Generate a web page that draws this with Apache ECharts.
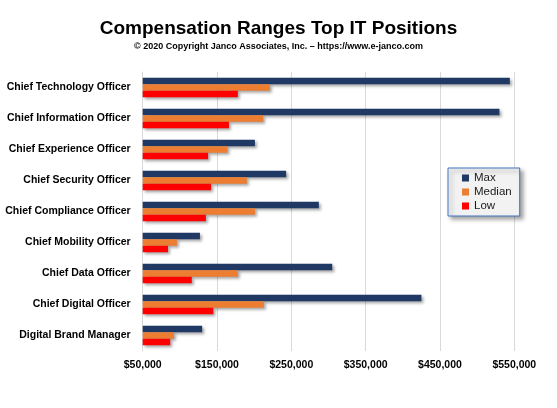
<!DOCTYPE html>
<html>
<head>
<meta charset="utf-8">
<script src="https://cdn.jsdelivr.net/npm/echarts@6/dist/echarts.min.js"></script>
<style>
  html, body { margin: 0; padding: 0; background: #fff; }
  #chart { width: 557px; height: 408px; }
</style>
</head>
<body>
<div id="chart"></div>
<script>
'use strict';
var positions = ['Chief Technology Officer', 'Chief Information Officer', 'Chief Experience Officer',
  'Chief Security Officer', 'Chief Compliance Officer', 'Chief Mobility Officer',
  'Chief Data Officer', 'Chief Digital Officer', 'Digital Brand Manager'];
var maxPay = [544000, 530000, 201000, 243000, 287000, 127000, 305000, 425000, 130000];
var medianPay = [221000, 212000, 164000, 190000, 201000, 96000, 178000, 213000, 92000];
var lowPay = [178000, 166000, 138000, 142000, 135000, 84000, 116000, 145000, 87000];
var xTicks = [50000, 150000, 250000, 350000, 450000, 550000];

var font = '"Liberation Sans", Arial, sans-serif';

function money(v) {
  return '$' + v.toString().replace(/\B(?=(\d{3})+(?!\d))/g, ',');
}

function barSeries(name, data, color) {
  return {
    name: name,
    type: 'bar',
    data: data,
    barWidth: 6.5,
    barGap: '0%',
    itemStyle: {
      color: color,
      shadowColor: 'rgba(0,0,0,0.35)',
      shadowBlur: 3,
      shadowOffsetX: 2,
      shadowOffsetY: 2
    }
  };
}

var chart = echarts.init(document.getElementById('chart'));
var option = {
  backgroundColor: 'white',
  animation: false,
  title: {
    text: 'Compensation Ranges Top IT Positions',
    subtext: '\u00a9 2020 Copyright Janco Associates, Inc. \u2013 https://www.e-janco.com',
    left: 'center',
    top: 14,
    itemGap: 4,
    textStyle: { fontFamily: font, fontSize: 19, fontWeight: 'bold', color: '#000' },
    subtextStyle: { fontFamily: font, fontSize: 9, fontWeight: 'bold', color: '#000' }
  },
  legend: {
    orient: 'vertical',
    left: 448,
    top: 168,
    padding: [4, 8, 4, 14],
    itemGap: 2,
    itemWidth: 7,
    itemHeight: 7,
    backgroundColor: '#f2f2f2',
    borderColor: '#4472c4',
    borderWidth: 1,
    shadowColor: 'rgba(0,0,0,0.35)',
    shadowBlur: 4,
    shadowOffsetX: 3,
    shadowOffsetY: 3,
    icon: 'rect',
    textStyle: { fontFamily: font, fontSize: 11.5, color: '#1a1a1a', padding: [0, 22, 0, 0] }
  },
  grid: { left: 142.7, right: 42.7, top: 72, bottom: 57, containLabel: false, outerBoundsMode: 'none' },
  xAxis: {
    type: 'value',
    min: 50000,
    max: 550000,
    interval: 100000,
    axisLine: { show: false },
    axisTick: { show: false },
    splitLine: { lineStyle: { color: '#d9d9d9', width: 1 } },
    axisLabel: {
      margin: 9,
      fontFamily: font, fontSize: 10.5, fontWeight: 'bold', color: '#000',
      formatter: function (v) { return xTicks.indexOf(v) >= 0 ? money(v) : ''; }
    }
  },
  yAxis: {
    type: 'category',
    data: positions,
    inverse: true,
    axisLine: { show: true, lineStyle: { color: '#d9d9d9' } },
    axisTick: { show: false },
    axisLabel: { margin: 12, fontFamily: font, fontSize: 10.5, fontWeight: 'bold', color: '#000' }
  },
  series: [
    barSeries('Max', maxPay, '#203864'),
    barSeries('Median', medianPay, '#ed7d31'),
    barSeries('Low', lowPay, '#ff0000')
  ]
};
chart.setOption(option);
</script>
</body>
</html>
